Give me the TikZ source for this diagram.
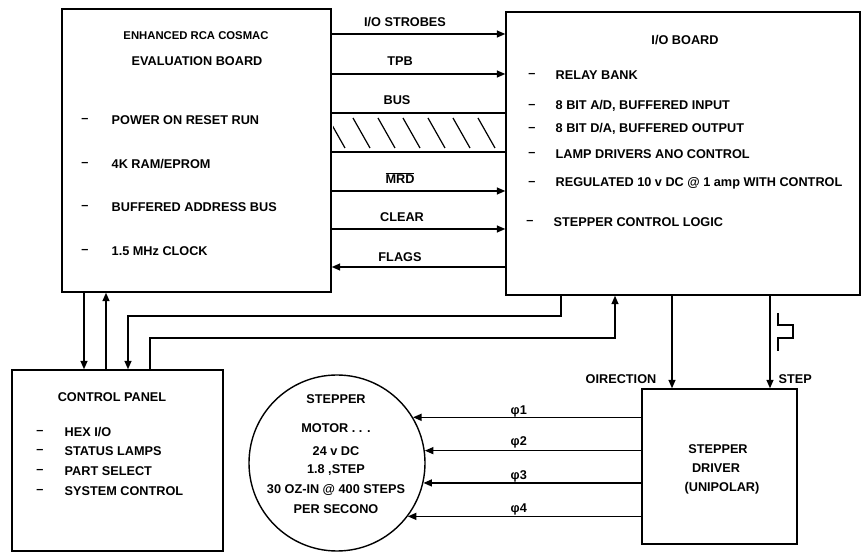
\documentclass[tikz,border=0pt]{standalone}
\usepackage{fontspec}
\setmainfont{Liberation Sans}
\usetikzlibrary{arrows.meta,calc}
\begin{document}
\begin{tikzpicture}[x=1pt,y=-1pt,line width=1.4pt,
  box/.style={draw,line width=1.4pt,inner sep=0pt},
  tx/.style={font=\bfseries\fontsize{12.7}{15}\selectfont,inner sep=0pt},
  sm/.style={font=\bfseries\fontsize{11.3}{13}\selectfont,inner sep=0pt},
  lt/.style={tx,anchor=west},
  arr/.style={-{Triangle[length=8.5pt,width=7pt]}},
  hatch/.style={line width=1.2pt}]
\useasboundingbox (0,0) rectangle (863,553);

% boxes
\node[box,minimum width=269pt,minimum height=283pt] (eval) at (196.5,150.5) {};
\node[box,minimum width=354pt,minimum height=283pt] (io) at (683,153.5) {};
\node[box,minimum width=211pt,minimum height=181pt] (cp) at (117.5,460.5) {};
\node[box,minimum width=155pt,minimum height=155pt] (drv) at (719.5,466.5) {};
\node[draw,circle,minimum size=176pt,inner sep=0pt,line width=1.4pt] (motor) at (337,463) {};

% evaluation board text
\node[sm] (e1) at (196,36) {ENHANCED RCA COSMAC};
\node[tx] (e2) at (197,61) {EVALUATION BOARD};
\node[tx] (ed1) at (85,120) {--};
\node[lt] (et1) at (111,120) {POWER ON RESET RUN};
\node[tx] (ed2) at (85,164) {--};
\node[lt] (et2) at (111,164) {4K RAM/EPROM};
\node[tx] (ed3) at (85,207) {--};
\node[lt] (et3) at (111,207) {BUFFERED ADDRESS BUS};
\node[tx] (ed4) at (85,251) {--};
\node[lt] (et4) at (111,251) {1.5 MHz CLOCK};

% I/O board text
\node[tx] (i0) at (685,40) {I/O BOARD};
\node[tx] (id1) at (532,75) {--};
\node[lt] (it1) at (555,75) {RELAY BANK};
\node[tx] (id2) at (532,106) {--};
\node[lt] (it2) at (555,106) {8 BIT A/D, BUFFERED INPUT};
\node[tx] (id3) at (532,129) {--};
\node[lt] (it3) at (555,129) {8 BIT D/A, BUFFERED OUTPUT};
\node[tx] (id4) at (532,154) {--};
\node[lt] (it4) at (555,154) {LAMP DRIVERS ANO CONTROL};
\node[tx] (id5) at (532,183) {--};
\node[lt] (it5) at (555,183) {REGULATED 10 v DC @ 1 amp WITH CONTROL};
\node[tx] (id6) at (530,222) {--};
\node[lt] (it6) at (553,222) {STEPPER CONTROL LOGIC};

% signal lines between boards
\node[tx] (l1) at (405,22) {I/O STROBES};
\draw[arr] (eval.east |- 0,34) -- (io.west |- 0,34);
\node[tx] (l2) at (400,61) {TPB};
\draw[arr] (eval.east |- 0,74) -- (io.west |- 0,74);
\node[tx] (l3) at (397,100) {BUS};
\draw (eval.east |- 0,113) -- (io.west |- 0,113);
\draw (eval.east |- 0,152) -- (io.west |- 0,152);
\begin{scope}
  \clip (333,113) rectangle (506,152);
  \foreach \x in {328,353,...,478}
    \draw[hatch] (\x,118) -- (\x+17,148);
\end{scope}
\node[tx] (l4) at (400,178) {$\overline{\hbox{MRD}}$};
\draw[arr] (eval.east |- 0,191) -- (io.west |- 0,191);
\node[tx] (l5) at (402,217) {CLEAR};
\draw[arr] (eval.east |- 0,229) -- (io.west |- 0,229);
\node[tx] (l6) at (400,257) {FLAGS};
\draw[arr] (io.west |- 0,267) -- (eval.east |- 0,267);

% eval <-> control panel
\draw[arr] (eval.south -| 84,0) -- (cp.north -| 84,0);
\draw[arr] (cp.north -| 106,0) -- (eval.south -| 106,0);
\draw[arr] (io.south -| 561,0) |- (128,316) -- (cp.north -| 128,0);
\draw[arr] (cp.north -| 150,0) |- (615,338) -- (io.south -| 615,0);

% control panel text
\node[tx] (c0) at (112,397) {CONTROL PANEL};
\node[tx] (cd1) at (40,432) {--};
\node[lt] (ct1) at (64,432) {HEX I/O};
\node[tx] (cd2) at (40,451) {--};
\node[lt] (ct2) at (64,451) {STATUS LAMPS};
\node[tx] (cd3) at (40,471) {--};
\node[lt] (ct3) at (64,471) {PART SELECT};
\node[tx] (cd4) at (40,491) {--};
\node[lt] (ct4) at (64,491) {SYSTEM CONTROL};

% direction / step
\draw[arr] (io.south -| 672,0) -- (drv.north -| 672,0);
\node[tx,anchor=east] (dl) at (657,379) {OIRECTION};
\draw[arr] (io.south -| 770,0) -- (drv.north -| 770,0);
\node[tx,anchor=west] (sl) at (778,379) {STEP};
\draw[line width=1.2pt] (778,313) -- (778,325) -- (793,325) -- (793,338) -- (778,338) -- (778,351);

% driver text
\node[tx] (dt1) at (718,449) {STEPPER};
\node[tx] (dt2) at (716,468) {DRIVER};
\node[tx] (dt3) at (722,488) {(UNIPOLAR)};

% motor text
\node[tx] (m1) at (336,399) {STEPPER};
\node[tx] (m2) at (336,428) {MOTOR . . .};
\node[tx] (m3) at (336,451) {24 v DC};
\node[tx] (m4) at (336,470) {1.8 ,STEP};
\node[tx] (m5) at (336,490) {30 OZ-IN @ 400 STEPS};
\node[tx] (m6) at (336,509) {PER SECONO};

% phase lines
\draw[arr] (drv.west |- motor.31.5) -- (motor.31.5);
\draw[arr] (drv.west |- motor.8.5) -- (motor.8.5);
\draw[arr] (drv.west |- motor.-13.1) -- (motor.-13.1);
\draw[arr] (drv.west |- motor.-37) -- (motor.-37);
\node[tx,anchor=base west] (p1) at (510,415) {φ1};
\node[tx,anchor=base west] (p2) at (510,446) {φ2};
\node[tx,anchor=base west] (p3) at (510,480) {φ3};
\node[tx,anchor=base west] (p4) at (510,512) {φ4};
\end{tikzpicture}
\end{document}
